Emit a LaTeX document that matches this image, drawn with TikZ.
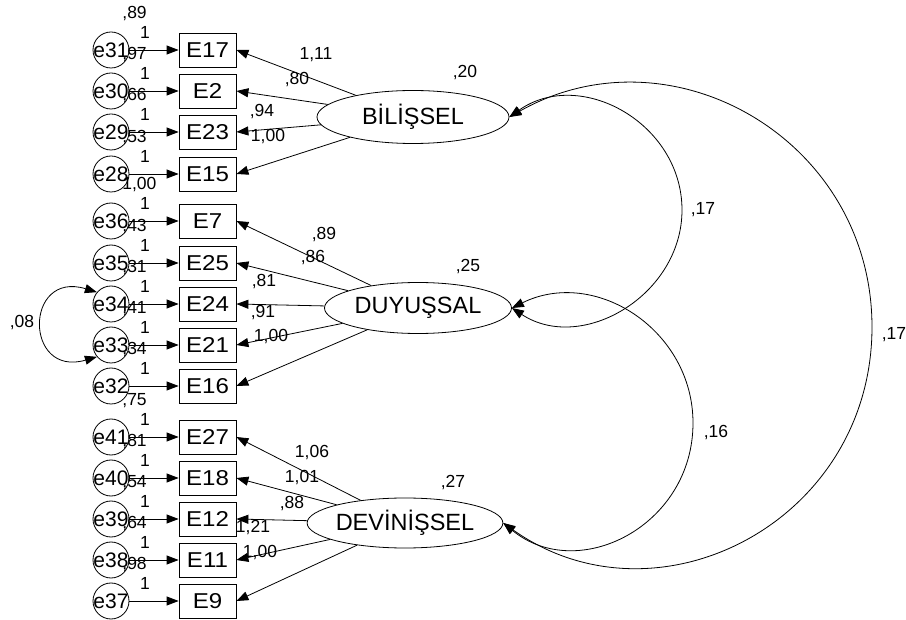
\documentclass[tikz,border=0pt]{standalone}
\usepackage{fontspec}
\setmainfont{Liberation Sans}
\usetikzlibrary{arrows.meta,shapes.geometric}
\begin{document}
\begin{tikzpicture}[x=1pt,y=-1pt,line width=0.8pt,
  obs/.style={draw,rectangle,minimum width=57pt,minimum height=34pt,inner sep=0pt,font=\fontsize{21.5}{21.5}\selectfont},
  err/.style={draw,circle,minimum size=36pt,inner sep=0pt},
  errtxt/.style={inner sep=0pt,font=\fontsize{21}{21}\selectfont},
  lat/.style={draw,ellipse,inner sep=0pt,font=\fontsize{23.5}{23.5}\selectfont},
  num/.style={inner sep=0pt,font=\fontsize{17.5}{17.5}\selectfont},
  arr/.style={-{Triangle[length=12pt,width=9pt]}},
  cov/.style={{Triangle[length=12pt,width=9pt]}-{Triangle[length=12pt,width=9pt]}},
]
\useasboundingbox (0,0) rectangle (906,620);

\foreach \b/\e/\y/\v in {E17/e31/50/{,89},E2/e30/91/{,97},E23/e29/132/{,66},E15/e28/174/{,53},
  E7/e36/221/{1,00},E25/e35/263/{,43},E24/e34/304/{,31},E21/e33/345/{,41},E16/e32/386/{,34},
  E27/e41/437/{,75},E18/e40/478/{,81},E12/e39/519/{,54},E11/e38/560/{,64},E9/e37/601/{,98}}{
  \node[obs] (\b) at (207.5,\y) {\scalebox{1.12}[1]{\b}};
  \node[err,label={[errtxt]center:\e}] (\e) at (111,\y) {};
  \draw[arr] (\e) -- (\b);
  \node[num,anchor=west] (v\e) at (122,\y-36) {\v};
  \node[num] (w\e) at (145,\y-18) {1};
}

% latent variables
\node[lat,minimum width=192pt,minimum height=53pt] (BIL) at (413,117) {BİLİŞSEL};
\node[lat,minimum width=187pt,minimum height=51pt] (DUY) at (418,308) {DUYUŞSAL};
\node[lat,minimum width=180pt,minimum height=50pt] (DEV) at (405,523) {DEVİNİŞSEL};

\node[num] (vBIL) at (465,73) {,20};
\node[num] (vDUY) at (468,267) {,25};
\node[num] (vDEV) at (453,483) {,27};

% loadings
\foreach \t in {E17,E2,E23,E15} {\draw[arr] (BIL) -- (\t.east);}
\foreach \t in {E7,E25,E24,E21,E16} {\draw[arr] (DUY) -- (\t.east);}
\foreach \t in {E27,E18,E12,E11,E9} {\draw[arr] (DEV) -- (\t.east);}

\node[num] (l1) at (316,55) {1,11};
\node[num] (l2) at (297,80) {,80};
\node[num] (l3) at (262,112) {,94};
\node[num] (l4) at (268,137) {1,00};

\node[num] (l5) at (324,235) {,89};
\node[num] (l6) at (313,258) {,86};
\node[num] (l7) at (264,282) {,81};
\node[num] (l8) at (263,313) {,91};
\node[num] (l9) at (271,337) {1,00};

\node[num] (l10) at (312,453) {1,06};
\node[num] (l11) at (302,478) {1,01};
\node[num] (l12) at (292,504) {,88};
\node[num] (l13) at (253,528) {1,21};
\node[num] (l14) at (260,553) {1,00};

% covariances
\draw[cov] (BIL.east) .. controls (580,67) and (682,123) .. (682,210)
  .. controls (682,295) and (582,354) .. (DUY.east);
\draw[cov] (DUY.east) .. controls (595,267) and (693,330) .. (693,423)
  .. controls (693,526) and (578,584) .. (DEV.east);
\draw[cov] (BIL.east) .. controls (672,25) and (872,140) .. (872,327)
  .. controls (872,522) and (657,632) .. (DEV.east);
\node[num] (c1) at (703,210) {,17};
\node[num] (c2) at (716,433) {,16};
\node[num] (c3) at (894,335) {,17};

% error covariance
\draw[cov] (e34.140) .. controls (24,270) and (24,378) .. (e33.220);
\node[num] (c4) at (22,323) {,08};
\end{tikzpicture}
\end{document}
